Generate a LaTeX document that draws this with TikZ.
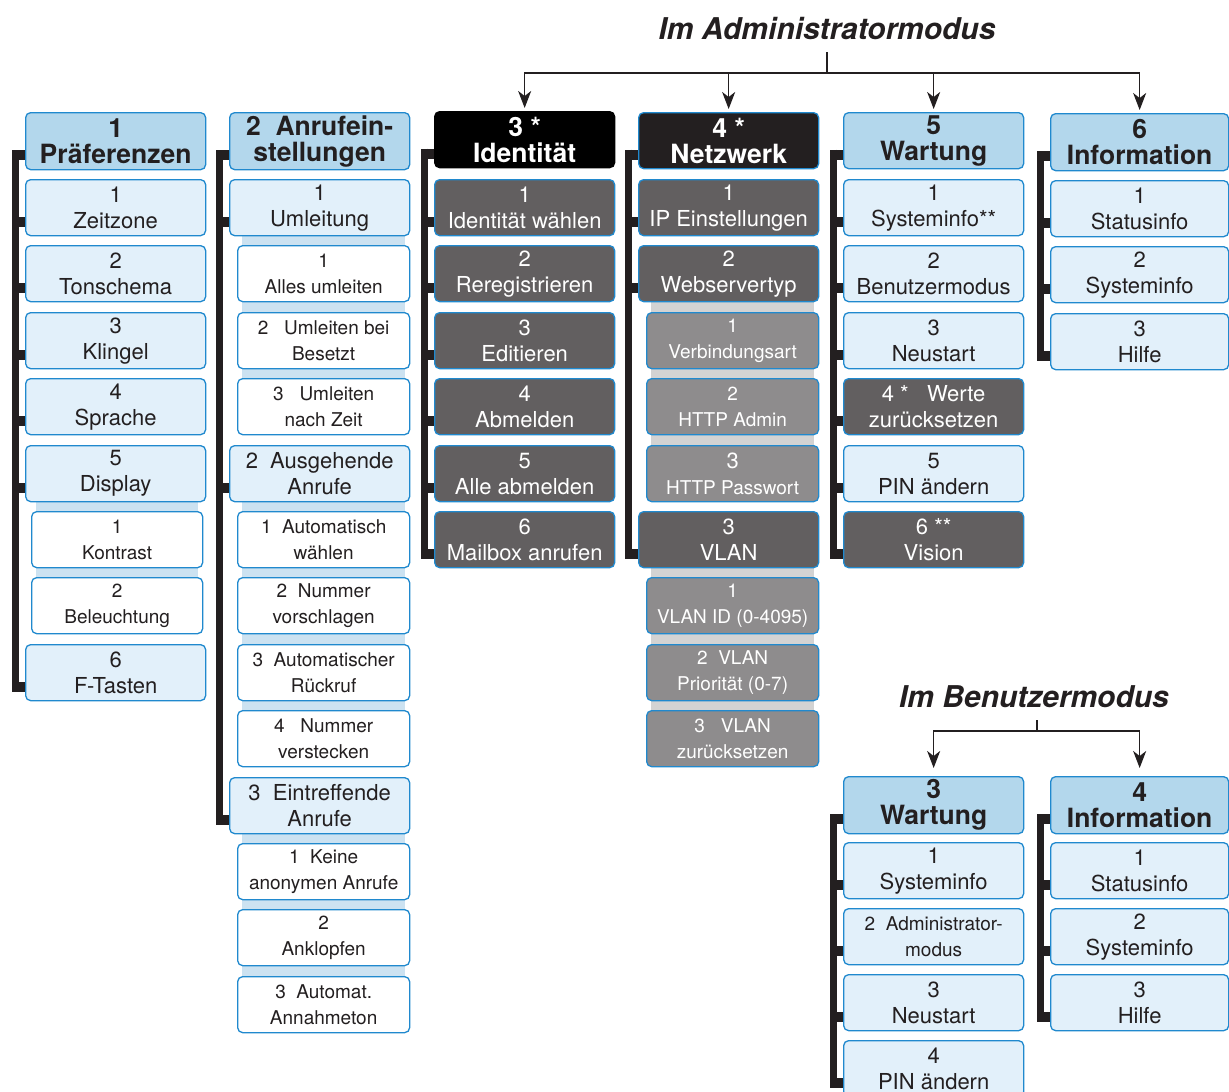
\documentclass[tikz,border=0pt]{standalone}
\usepackage{fontspec}
\setmainfont{TeX Gyre Heros}
\usetikzlibrary{arrows.meta,backgrounds,calc}

\definecolor{menublue}{RGB}{32,137,206}
\definecolor{headfill}{RGB}{179,215,236}
\definecolor{itemfill}{RGB}{226,240,250}
\definecolor{stripblue}{RGB}{204,226,241}
\definecolor{darkfill}{RGB}{98,95,96}
\definecolor{greyfill}{RGB}{142,140,141}
\definecolor{stripgrey}{RGB}{211,211,211}
\definecolor{inkblack}{RGB}{35,31,32}

\begin{document}
\begin{tikzpicture}[x=1pt,y=-1pt,>={Stealth[length=17pt,width=13pt,inset=5pt]},
  box/.style={draw=menublue,line width=1.3pt,rounded corners=5pt,anchor=north west,
    minimum width=180pt,minimum height=56pt,inner sep=0pt,align=center,text=inkblack,
    font=\fontsize{22}{26}\selectfont},
  head/.style={box,fill=headfill,minimum height=57pt,font=\fontsize{26.5}{26}\selectfont\bfseries},
  item/.style={box,fill=itemfill},
  dark/.style={box,fill=darkfill,text=white},
  sub/.style={box,fill=white,minimum width=172pt,font=\fontsize{19}{26}\selectfont},
  greysub/.style={sub,fill=greyfill,text=white},
  strip/.style={fill=stripblue},
  stub/.style={draw=inkblack,line width=10pt},
  spine/.style={draw=inkblack,line width=7pt,shorten <=-5pt,shorten >=-5pt},
  fork/.style={draw=inkblack,line width=1.5pt},
  modetitle/.style={font=\fontsize{30}{32}\selectfont\bfseries\itshape,text=inkblack,inner sep=12pt}]
  \useasboundingbox (0,0) rectangle (1229,1092);

  % titles
  \node[modetitle] (admin) at (827,29) {Im Administratormodus};
  \coordinate (adminfork) at (827,73);
  \node[modetitle] (user) at (1034,697) {Im Benutzermodus};
  \coordinate (userfork) at (1037,731);

  % 1 Praeferenzen
  \node[head] (h1) at (25,112) {1\\Präferenzen};
  \node[item] (p1) at (25,179) {1\\Zeitzone};
  \node[item] (p2) at (25,245) {2\\Tonschema};
  \node[item] (p3) at (25,312) {3\\Klingel};
  \node[item] (p4) at (25,378) {4\\Sprache};
  \node[item] (p5) at (25,445) {5\\Display};
  \node[sub,minimum width=171pt] (s51) at (31,511) {1\\Kontrast};
  \node[sub,minimum width=171pt] (s52) at (31,577) {2\\Beleuchtung};
  \node[item] (p6) at (25,644) {6\\F-Tasten};

  % 2 Anrufeinstellungen
  \node[head] (h2) at (229,112) {2\ \ Anrufein-\\stellungen};
  \node[item] (a1) at (229,179) {1\\Umleitung};
  \node[sub] (s11) at (237,245) {1\\Alles umleiten};
  \node[sub] (s12) at (237,312) {2\ \ \ Umleiten bei\\Besetzt};
  \node[sub] (s13) at (237,378) {3\ \ \ Umleiten\\nach Zeit};
  \node[item] (a2) at (229,445) {2\ \ Ausgehende\\Anrufe};
  \node[sub] (s21) at (237,511) {1\ \ Automatisch\\wählen};
  \node[sub] (s22) at (237,577) {2\ \ Nummer\\vorschlagen};
  \node[sub] (s23) at (237,644) {3\ \ Automatischer\\Rückruf};
  \node[sub] (s24) at (237,710) {4\ \ \ Nummer\\verstecken};
  \node[item] (a3) at (229,777) {3\ \ Eintreffende\\Anrufe};
  \node[sub] (s31) at (237,843) {1\ \ Keine\\anonymen Anrufe};
  \node[sub] (s32) at (237,909) {2\\Anklopfen};
  \node[sub] (s33) at (237,976) {3\ \ Automat.\\Annahmeton};

  % 3 Identitaet
  \node[head,fill=black,draw=black,text=white,minimum height=56pt] (h3) at (434,111) {3 *\\Identität};
  \node[dark] (i1) at (434,179) {1\\Identität wählen};
  \node[dark] (i2) at (434,245) {2\\Reregistrieren};
  \node[dark] (i3) at (434,312) {3\\Editieren};
  \node[dark] (i4) at (434,378) {4\\Abmelden};
  \node[dark] (i5) at (434,445) {5\\Alle abmelden};
  \node[dark] (i6) at (434,511) {6\\Mailbox anrufen};

  % 4 Netzwerk
  \node[head,fill=inkblack,text=white,minimum height=56pt] (h4) at (638,112) {4 *\\Netzwerk};
  \node[dark] (n1) at (638,179) {1\\IP Einstellungen};
  \node[dark] (n2) at (638,245) {2\\Webservertyp};
  \node[greysub] (t21) at (646,312) {1\\Verbindungsart};
  \node[greysub] (t22) at (646,378) {2\\HTTP Admin};
  \node[greysub] (t23) at (646,445) {{\fontsize{22}{26}\selectfont 3}\\HTTP Passwort};
  \node[dark] (n3) at (638,511) {3\\VLAN};
  \node[greysub] (t31) at (646,577) {1\\VLAN ID (0-4095)};
  \node[greysub] (t32) at (646,644) {2\ \ VLAN\\Priorität (0-7)};
  \node[greysub] (t33) at (646,710) {3\ \ \ VLAN\\zurücksetzen};

  % 5 Wartung
  \node[head,minimum height=56pt] (h5) at (843,112) {5\\Wartung};
  \node[item] (w1) at (843,179) {1\\Systeminfo**};
  \node[item] (w2) at (843,245) {2\\Benutzermodus};
  \node[item] (w3) at (843,312) {3\\Neustart};
  \node[dark] (w4) at (843,378) {4 *\ \ \ Werte\\zurücksetzen};
  \node[item] (w5) at (843,445) {5\\PIN ändern};
  \node[dark] (w6) at (843,511) {6 **\\Vision};

  % 6 Information
  \node[head,minimum width=178pt] (h6) at (1050,113) {6\\Information};
  \node[item,minimum width=178pt] (f1) at (1050,180) {1\\Statusinfo};
  \node[item,minimum width=178pt] (f2) at (1050,246) {2\\Systeminfo};
  \node[item,minimum width=178pt] (f3) at (1050,313) {3\\Hilfe};

  % Benutzermodus
  \node[head] (hb1) at (843,776) {3\\Wartung};
  \node[item] (bw1) at (843,842) {1\\Systeminfo};
  \node[item,font=\fontsize{19}{26}\selectfont] (bw2) at (843,908) {2\ \ Administrator-\\modus};
  \node[item] (bw3) at (843,974) {3\\Neustart};
  \node[item] (bw4) at (843,1040) {4\\PIN ändern};
  \node[head,minimum width=178pt] (hb2) at (1050,776) {4\\Information};
  \node[item,minimum width=178pt] (bf1) at (1050,842) {1\\Statusinfo};
  \node[item,minimum width=178pt] (bf2) at (1050,908) {2\\Systeminfo};
  \node[item,minimum width=178pt] (bf3) at (1050,974) {3\\Hilfe};

  % arrows from the mode titles
  \draw[fork] (admin.south) -- (adminfork);
  \foreach \n in {h3,h4,h5,h6}
    \draw[fork,->,shorten >=3pt] (adminfork) -| (\n.north);
  \draw[fork] (user.south -| userfork) -- (userfork);
  \foreach \n in {hb1,hb2}
    \draw[fork,->,shorten >=8pt] (userfork) -| (\n.north);

  \begin{scope}[on background layer]
    \fill[white] (0,0) rectangle (1229,1092);
    % strips behind sub menus
    \fill[strip] ($(s51.west |- p5.south)+(5,0)$) rectangle ($(s52.south east)+(-5,0)$);
    \fill[strip] ($(s11.west |- a1.south)+(5,0)$) rectangle ($(s13.south east)+(-5,0)$);
    \fill[strip] ($(s21.west |- a2.south)+(5,0)$) rectangle ($(s24.south east)+(-5,0)$);
    \fill[strip] ($(s31.west |- a3.south)+(5,0)$) rectangle ($(s33.south east)+(-5,0)$);
    \fill[stripgrey] ($(t21.west |- n2.south)+(5,0)$) rectangle ($(t23.south east)+(-5,0)$);
    \fill[stripgrey] ($(t31.west |- n3.south)+(5,0)$) rectangle ($(t33.south east)+(-5,0)$);
    % brackets
    \draw[spine] ($(h1.west)+(-10,14)$) -- ($(p6.west)+(-10,14)$);
    \foreach \n in {h1,p1,p2,p3,p4,p5,p6}
      \draw[stub] ($(\n.west)+(0,14)$) -- ++(-13.5,0);
    \draw[spine] ($(h2.west)+(-10,14)$) -- ($(a3.west)+(-10,14)$);
    \foreach \n in {h2,a1,a2,a3}
      \draw[stub] ($(\n.west)+(0,14)$) -- ++(-13.5,0);
    \draw[spine] ($(h3.west)+(-10,14)$) -- ($(i6.west)+(-10,14)$);
    \foreach \n in {h3,i1,i2,i3,i4,i5,i6}
      \draw[stub] ($(\n.west)+(0,14)$) -- ++(-13.5,0);
    \draw[spine] ($(h4.west)+(-10,14)$) -- ($(n3.west)+(-10,14)$);
    \foreach \n in {h4,n1,n2,n3}
      \draw[stub] ($(\n.west)+(0,14)$) -- ++(-13.5,0);
    \draw[spine] ($(h5.west)+(-10,14)$) -- ($(w6.west)+(-10,14)$);
    \foreach \n in {h5,w1,w2,w3,w4,w5,w6}
      \draw[stub] ($(\n.west)+(0,14)$) -- ++(-13.5,0);
    \draw[spine] ($(h6.west)+(-10,14)$) -- ($(f3.west)+(-10,14)$);
    \foreach \n in {h6,f1,f2,f3}
      \draw[stub] ($(\n.west)+(0,14)$) -- ++(-13.5,0);
    \draw[spine] ($(hb1.west)+(-10,14)$) -- ($(bw4.west)+(-10,14)$);
    \foreach \n in {hb1,bw1,bw2,bw3,bw4}
      \draw[stub] ($(\n.west)+(0,14)$) -- ++(-13.5,0);
    \draw[spine] ($(hb2.west)+(-10,14)$) -- ($(bf3.west)+(-10,14)$);
    \foreach \n in {hb2,bf1,bf2,bf3}
      \draw[stub] ($(\n.west)+(0,14)$) -- ++(-13.5,0);
  \end{scope}
\end{tikzpicture}
\end{document}
